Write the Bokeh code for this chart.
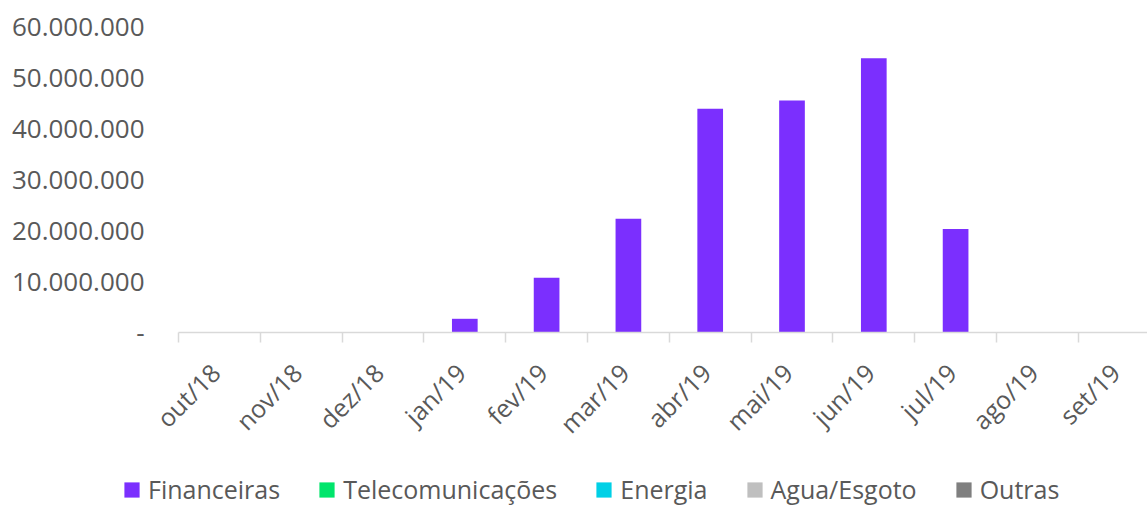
import math
from bokeh.plotting import figure
from bokeh.models import Range1d, FixedTicker, Legend, LegendItem, LinearAxis
from bokeh.embed import file_html
from bokeh.resources import INLINE

months = ["out/18", "nov/18", "dez/18", "jan/19", "fev/19", "mar/19",
          "abr/19", "mai/19", "jun/19", "jul/19", "ago/19", "set/19"]
financeiras = [0, 0, 0, 2750000, 10800000, 22400000, 44000000, 45600000,
               53900000, 20400000, 0, 0]
telecom = [0] * 12
energia = [0] * 12
agua = [0] * 12
outras = [0] * 12

series_names = ["Financeiras", "Telecomunicações", "Energia", "Agua/Esgoto", "Outras"]
series_values = [financeiras, telecom, energia, agua, outras]
series_colors = ["#7B2FFE", "#00E56B", "#00D0E6", "#BFBFBF", "#7F7F7F"]

y_ticks = [0, 10000000, 20000000, 30000000, 40000000, 50000000, 60000000]
y_labels = ["-", "10.000.000", "20.000.000", "30.000.000", "40.000.000",
            "50.000.000", "60.000.000"]

FONT = "Open Sans"
TXT = "#595959"
GRID = "#D9D9D9"

n = len(months)
centers = [i + 0.5 for i in range(n)]
label_pos = [c - 0.05 for c in centers]

W, H = 1147, 506
plot_left, plot_top, plot_bottom = 178.0, 26.7, 332.3
cat_px = 81.8
x_end = (W - plot_left) / cat_px
x_start = -plot_left / cat_px
y_max = 60000000
px_per_unit = (plot_bottom - plot_top) / y_max
y_min = -(H - plot_bottom) / px_per_unit
y_top = y_max + plot_top / px_per_unit

p = figure(width=W, height=H, output_backend="svg", toolbar_location=None,
           x_range=Range1d(x_start, x_end), y_range=Range1d(y_min, y_top),
           min_border_left=0, min_border_right=0, min_border_top=0,
           min_border_bottom=0, x_axis_type=None, y_axis_type=None)
p.outline_line_color = None
p.background_fill_color = "white"

# x axis (drawn at y = 0)
xa = LinearAxis(ticker=FixedTicker(ticks=label_pos, minor_ticks=list(range(n + 1))),
                fixed_location=0, bounds=(0, x_end))
xa.major_label_overrides = {c: m for c, m in zip(label_pos, months)}
xa.major_label_orientation = math.pi / 4
xa.major_label_text_font = FONT
xa.major_label_text_font_size = "25px"
xa.major_label_text_color = TXT
xa.major_label_standoff = 25
xa.major_tick_line_color = None
xa.minor_tick_line_color = GRID
xa.minor_tick_line_width = 1.5
xa.minor_tick_out = 10
xa.minor_tick_in = 0
xa.axis_line_color = GRID
xa.axis_line_width = 1.5
p.add_layout(xa, "below")

# y axis (drawn at x = 0)
ya = LinearAxis(ticker=FixedTicker(ticks=y_ticks, minor_ticks=[]), fixed_location=0)
ya.major_label_overrides = {t: l for t, l in zip(y_ticks, y_labels)}
ya.major_label_text_font = FONT
ya.major_label_text_font_size = "26px"
ya.major_label_text_color = TXT
ya.major_label_standoff = 28
ya.major_tick_line_color = None
ya.minor_tick_line_color = None
ya.axis_line_color = None
p.add_layout(ya, "left")

p.ygrid.grid_line_color = GRID
p.ygrid.grid_line_width = 1.5
p.ygrid.ticker = ya.ticker
p.ygrid.bounds = (0, x_end)
p.xgrid.grid_line_color = None

items = []
for name, vals, col in zip(series_names, series_values, series_colors):
    r = p.vbar(x=centers, top=vals, bottom=0, width=0.314, fill_color=col,
               line_color=None)
    items.append(LegendItem(label=name, renderers=[r]))

leg = Legend(items=items, orientation="horizontal", location=(122, 0),
             label_text_font=FONT, label_text_font_size="25px",
             label_text_color=TXT, glyph_width=19, glyph_height=19,
             label_standoff=7, spacing=37, padding=0, margin=0,
             border_line_color=None, background_fill_alpha=0)
p.add_layout(leg, "center")

open("out.html", "w").write(file_html(p, INLINE))
